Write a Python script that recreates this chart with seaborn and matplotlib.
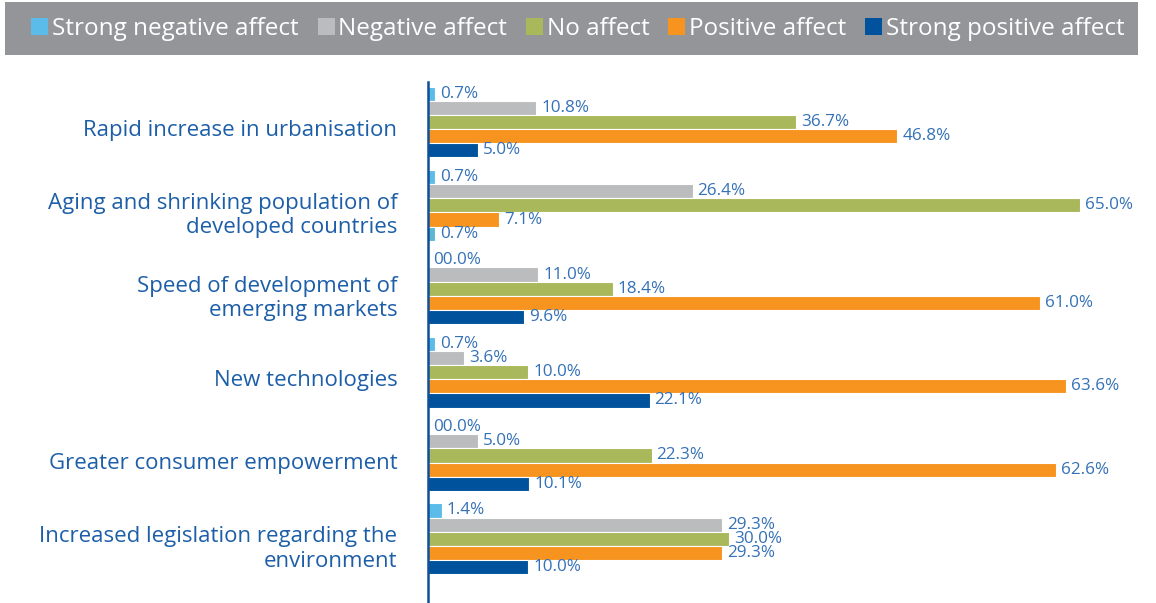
import numpy as np
import pandas as pd
import matplotlib
matplotlib.use("Agg")
import matplotlib.pyplot as plt
import matplotlib.transforms as mtransforms
from matplotlib.patches import Rectangle, Patch
import seaborn as sns

categories = [
    "Rapid increase in urbanisation",
    "Aging and shrinking population of\ndeveloped countries",
    "Speed of development of\nemerging markets",
    "New technologies",
    "Greater consumer empowerment",
    "Increased legislation regarding the\nenvironment",
]
series = ["Strong negative affect", "Negative affect", "No affect",
          "Positive affect", "Strong positive affect"]
strong_negative = [0.7, 0.7, 0.0, 0.7, 0.0, 1.4]
negative = [10.8, 26.4, 11.0, 3.6, 5.0, 29.3]
no_affect = [36.7, 65.0, 18.4, 10.0, 22.3, 30.0]
positive = [46.8, 7.1, 61.0, 63.6, 62.6, 29.3]
strong_positive = [5.0, 0.7, 9.6, 22.1, 10.1, 10.0]

colors = ["#5BBCEA", "#BBBCBE", "#A8B85B", "#F7931F", "#00529C"]
text_blue = "#3471B7"
cat_blue = "#1D5EA8"

values = [strong_negative, negative, no_affect, positive, strong_positive]
rows = []
for s, vals in zip(series, values):
    for c, v in zip(categories, vals):
        rows.append({"category": c, "series": s, "value": v})
df = pd.DataFrame(rows)

sns.set_style("white")
plt.rcParams["font.family"] = ["Open Sans", "DejaVu Sans"]

fig = plt.figure(figsize=(11.56, 6.03), dpi=100)
W, H = 1156, 603
ax = fig.add_axes([428 / W, 0, 720 / W, 1 - 82 / H])

sns.barplot(data=df, x="value", y="category", hue="series", orient="h",
            palette=colors, hue_order=series, order=categories,
            width=0.85, edgecolor="white", linewidth=0.8, legend=False,
            errorbar=None, saturation=1, ax=ax)

# slight colour deviation seen in the reference
ax.containers[4][1].set_facecolor("#5DB7D2")

label_offset = mtransforms.ScaledTranslation(0, -1.5 / 100, fig.dpi_scale_trans)
for cont, vals in zip(ax.containers, values):
    labels = ["00.0%" if v == 0 else f"{v:.1f}%" for v in vals]
    texts = ax.bar_label(cont, labels=labels, padding=3.5, fontsize=12.3,
                         color=text_blue)
    for t in texts:
        t.set_transform(t.get_transform() + label_offset)

ax.set_xlim(0, 71.8)
ax.set_ylim(5.77, -0.48)
ax.set_xlabel("")
ax.set_ylabel("")
ax.set_xticks([])
for s in ["top", "right", "bottom"]:
    ax.spines[s].set_visible(False)
ax.spines["left"].set_color("#0E4F98")
ax.spines["left"].set_linewidth(1.8)
ax.tick_params(axis="y", length=0, pad=22)
offset = mtransforms.ScaledTranslation(0, -6 / 100, fig.dpi_scale_trans)
for lab in ax.get_yticklabels():
    lab.set_fontsize(16)
    lab.set_color(cat_blue)
    lab.set_multialignment("right")
    lab.set_transform(lab.get_transform() + offset)

# legend band
fig.patches.append(Rectangle((5 / W, 1 - 55 / H), 1133 / W, 53 / H,
                             transform=fig.transFigure, facecolor="#939598",
                             edgecolor="none", zorder=0))
handles = [Patch(facecolor=c, edgecolor="none") for c in colors]
leg = fig.legend(handles, series, loc="center", ncol=5,
                 bbox_to_anchor=(578 / W, 1 - 29 / H), frameon=False,
                 fontsize=17.5, handlelength=0.7, handleheight=0.7,
                 handletextpad=0.15, columnspacing=0.78, labelcolor="white")

fig.savefig("out.png", dpi=100)
